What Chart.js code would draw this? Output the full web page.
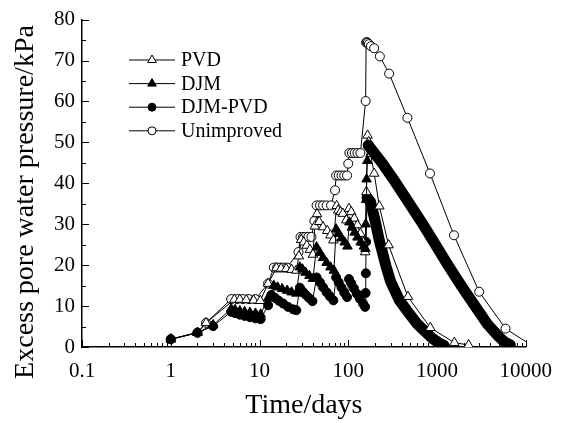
<!DOCTYPE html>
<html>
<head>
<meta charset="utf-8">
<script src="https://cdn.jsdelivr.net/npm/chart.js@4.4.1/dist/chart.umd.min.js"></script>
<style>
  html, body { margin: 0; padding: 0; background: #fff; }
</style>
</head>
<body>
<canvas id="chart" width="564" height="423"></canvas>
<script>
// Valeurs : temps (jours) et surpression interstitielle (kPa)
const seriesNames = ["PVD", "DJM", "DJM-PVD", "Unimproved"];

const pvdTime = [1, 2, 2.5, 5.2, 6, 7.1, 8.6, 10.2, 12.5, 15.5, 17.5, 20, 23, 26, 27.8, 29.5, 31.5, 34, 37, 40, 42,
  44.5, 47, 52, 58, 63, 68, 74, 77, 82, 87, 95, 102, 108, 117, 127, 137, 148, 155,
  160, 165, 170, 178, 196, 224, 285, 470, 840, 1570, 2270];
const pvdPressure = [1.9, 3.5, 5.9, 11.6, 11.6, 11.5, 11.4, 11.3, 15.5, 19.3, 19.2, 19.1, 18.9, 18.7, 22.2, 26.2, 25.6, 24.8, 23.8, 22.6, 29.5,
  32.5, 30.6, 29.3, 28.4, 27.3, 26.1, 34.5, 33.4, 33, 32.6, 31, 33.8, 33, 31.4, 29.8, 27.7, 25.5, 23.2,
  37.9, 51.7, 50.1, 47.2, 42.4, 34.4, 24.9, 12.3, 4.7, 1.05, 0.5];

const djmTime = [1, 2, 3, 4.8, 5.3, 6, 6.8, 7.8, 9, 10.3, 12.5, 14.5, 16, 18, 20.5, 23, 26, 28.5, 30.5, 33, 36.5, 40,
  44, 48, 52, 57, 63, 69, 73, 78, 84, 91, 98, 103, 110, 118, 127, 138, 150, 156, 157.5, 159, 161, 164, 168];
const djmPressure = [1.9, 3.5, 5.4, 9.3, 9.1, 8.8, 8.6, 8.4, 8.2, 8.0, 11.9, 15, 14.6, 14.2, 13.8, 13.4, 13.1, 19.5, 19, 18.2, 17.4, 16.7,
  24.4, 23, 21.8, 20.6, 19.5, 18.7, 28.8, 27.7, 26.6, 25.6, 24.6, 30.5, 29.2, 28, 26.8, 25.6, 24.6, 24, 30, 36, 41, 45.5, 49.3];
// dissipation après le pic (points très serrés sur la figure -> bande noire)
const djmDecayTime = [168, 200, 240, 329, 480, 684, 960, 1365, 1900, 2722, 3700, 4977, 5800, 6700];
const djmDecayPressure = [49.3, 47.2, 45, 40.7, 35.3, 30.2, 25, 19.6, 14.8, 9.8, 5.6, 2.5, 1.2, 0.5];

const djmPvdTime = [1, 2, 3, 4.8, 5.3, 6, 6.8, 7.8, 9, 10.3, 12.5, 13.6, 15, 16.5, 18.5, 21, 24, 26, 28.5, 30.5, 33, 36, 39.5,
  44, 48, 52, 57, 62, 68, 73, 78, 84, 90, 97, 102, 108, 116, 125, 135, 147, 155, 157, 158, 159, 163];
const djmPvdPressure = [1.9, 3.5, 5.1, 8.6, 8.3, 7.9, 7.6, 7.3, 7.0, 6.8, 10.2, 12.7, 12, 11.3, 10.6, 9.8, 9.2, 9.0, 14.5, 13.6, 12.8, 12, 11.2,
  17, 15.8, 14.6, 13.4, 12.4, 11.4, 17, 15.8, 14.5, 13.3, 12.2, 16.6, 15.6, 14.3, 13, 11.8, 10.6, 9.8, 13.2, 18, 25.7, 36.5];
const djmPvdDecayTime = [163, 178, 200, 224, 266, 300, 375, 485, 600, 750, 885, 1050, 1200];
const djmPvdDecayPressure = [36.5, 35.5, 31, 26, 19.8, 16, 11.5, 8.2, 5.6, 3.6, 2.1, 1.0, 0.4];

const unimpTime = [1, 2, 2.5, 4.8, 5.6, 6.5, 7.6, 9, 12.5, 14.5, 15.8, 17.2, 18.8, 20.5, 27.5, 29, 31, 33, 35.5, 38.5, 41.5,
  44, 48, 52, 57, 64, 71, 73, 78, 84, 90, 97, 100, 103, 110, 118, 127, 137, 157,
  159, 162, 166, 171, 180, 196, 227, 289, 464, 834, 1553, 2985, 5916, 12000];
const unimpPressure = [1.9, 3.5, 5.9, 11.7, 11.7, 11.7, 11.7, 11.7, 15.5, 19.4, 19.4, 19.4, 19.4, 19.4, 23.2, 26.9, 26.9, 26.9, 26.9, 26.9, 30.8,
  34.6, 34.6, 34.6, 34.6, 34.6, 38.3, 41.9, 41.9, 41.9, 41.9, 41.9, 44.8, 47.4, 47.4, 47.4, 47.4, 47.4, 60.1,
  74.4, 74.5, 74.3, 74, 73.5, 73, 71, 66.8, 56, 42.4, 27.3, 13.5, 4.5, 0.2];

const xTickLabels = ["0.1", "1", "10", "100", "1000", "10000"];

const FONT = '"Liberation Serif", "Times New Roman", serif';

function toPoints(ts, ps) {
  return ts.map((t, i) => ({ x: t, y: ps[i] }));
}

function markerSet(label, ts, ps, style, fill, order) {
  return {
    label: label,
    data: toPoints(ts, ps),
    showLine: true,
    borderColor: '#000',
    borderWidth: 1,
    pointStyle: style,
    pointRadius: style === 'triangle' ? 5.5 : 4.5,
    pointBorderWidth: 1,
    pointBorderColor: '#000',
    pointBackgroundColor: fill,
    order: order
  };
}

function bandSet(ts, ps, order) {
  return {
    label: '',
    data: toPoints(ts, ps),
    showLine: true,
    borderColor: '#000',
    borderWidth: 11,
    borderCapStyle: 'round',
    borderJoinStyle: 'round',
    pointRadius: 0,
    clip: 0,
    order: order
  };
}

function isDecade(v) {
  const l = Math.log10(v);
  return Math.abs(l - Math.round(l)) < 1e-6;
}

// Graduations intérieures, titres des axes et légende
const decorPlugin = {
  id: 'decor',
  afterDraw(chart) {
    const ctx = chart.ctx;
    const xs = chart.scales.x;
    const ys = chart.scales.y;
    const area = chart.chartArea;
    ctx.save();
    ctx.strokeStyle = '#000';
    ctx.lineWidth = 1;
    ctx.beginPath();
    for (let e = -1; e <= 4; e++) {
      for (let m = 1; m <= 9; m++) {
        const v = m * Math.pow(10, e);
        if (v > 10000.001) break;
        const px = Math.round(xs.getPixelForValue(v)) + 0.5;
        const len = m === 1 ? 7 : 4;
        ctx.moveTo(px, area.bottom);
        ctx.lineTo(px, area.bottom - len);
      }
    }
    for (let v = 0; v <= 80; v += 5) {
      const py = Math.round(ys.getPixelForValue(v)) + 0.5;
      const len = v % 10 === 0 ? 7 : 4;
      ctx.moveTo(area.left, py);
      ctx.lineTo(area.left + len, py);
    }
    ctx.stroke();

    // titres
    ctx.fillStyle = '#000';
    ctx.font = '28px ' + FONT;
    ctx.textAlign = 'center';
    ctx.textBaseline = 'alphabetic';
    ctx.fillText('Time/days', (area.left + area.right) / 2, 413);
    ctx.save();
    ctx.translate(33, 202);
    ctx.rotate(-Math.PI / 2);
    ctx.fillText('Excess pore water pressure/kPa', 0, 0);
    ctx.restore();

    // légende
    const styles = [
      { style: 'triangle', fill: '#fff', r: 5 },
      { style: 'triangle', fill: '#000', r: 5 },
      { style: 'circle', fill: '#000', r: 4 },
      { style: 'circle', fill: '#fff', r: 4 }
    ];
    ctx.font = '20px ' + FONT;
    ctx.textAlign = 'left';
    ctx.textBaseline = 'middle';
    seriesNames.forEach((name, i) => {
      const y = 60 + i * 23.6;
      ctx.beginPath();
      ctx.lineWidth = 1;
      ctx.moveTo(129, y);
      ctx.lineTo(175, y);
      ctx.stroke();
      ctx.fillStyle = styles[i].fill;
      Chart.helpers.drawPoint(ctx, {
        pointStyle: styles[i].style, radius: styles[i].r, rotation: 0, borderWidth: 1
      }, 152, y);
      ctx.fillStyle = '#000';
      ctx.fillText(name, 181, y + 1);
    });
    ctx.restore();
  }
};

const ctx = document.getElementById('chart').getContext('2d');
new Chart(ctx, {
  type: 'scatter',
  data: {
    datasets: [
      markerSet(seriesNames[1], djmTime, djmPressure, 'triangle', '#000', 0),
      bandSet(djmDecayTime, djmDecayPressure, 0.5),
      markerSet(seriesNames[0], pvdTime, pvdPressure, 'triangle', '#fff', 1),
      markerSet(seriesNames[2], djmPvdTime, djmPvdPressure, 'circle', '#000', 2),
      bandSet(djmPvdDecayTime, djmPvdDecayPressure, 2.5),
      Object.assign(markerSet(seriesNames[3], unimpTime, unimpPressure, 'circle', '#fff', 3), { clip: 0 })
    ]
  },
  options: {
    responsive: false,
    animation: false,
    layout: { padding: { top: 19, right: 37, left: 0, bottom: 0 } },
    plugins: { legend: { display: false }, tooltip: { enabled: false } },
    scales: {
      x: {
        type: 'logarithmic',
        min: 0.1,
        max: 10000,
        afterFit: (s) => { s.height = 76; },
        grid: { display: false, drawTicks: false },
        border: { display: true, color: '#000', width: 1.5 },
        ticks: {
          autoSkip: false,
          maxRotation: 0,
          padding: 12,
          color: '#000',
          font: { family: FONT, size: 21 },
          callback: (v) => isDecade(v) ? xTickLabels[Math.round(Math.log10(v)) + 1] : ''
        }
      },
      y: {
        min: 0,
        max: 80,
        afterFit: (s) => { s.width = 82; },
        grid: { display: false, drawTicks: false },
        border: { display: true, color: '#000', width: 1.5 },
        ticks: {
          stepSize: 10,
          padding: 7,
          color: '#000',
          font: { family: FONT, size: 21 }
        }
      }
    }
  },
  plugins: [decorPlugin]
});
</script>
</body>
</html>
